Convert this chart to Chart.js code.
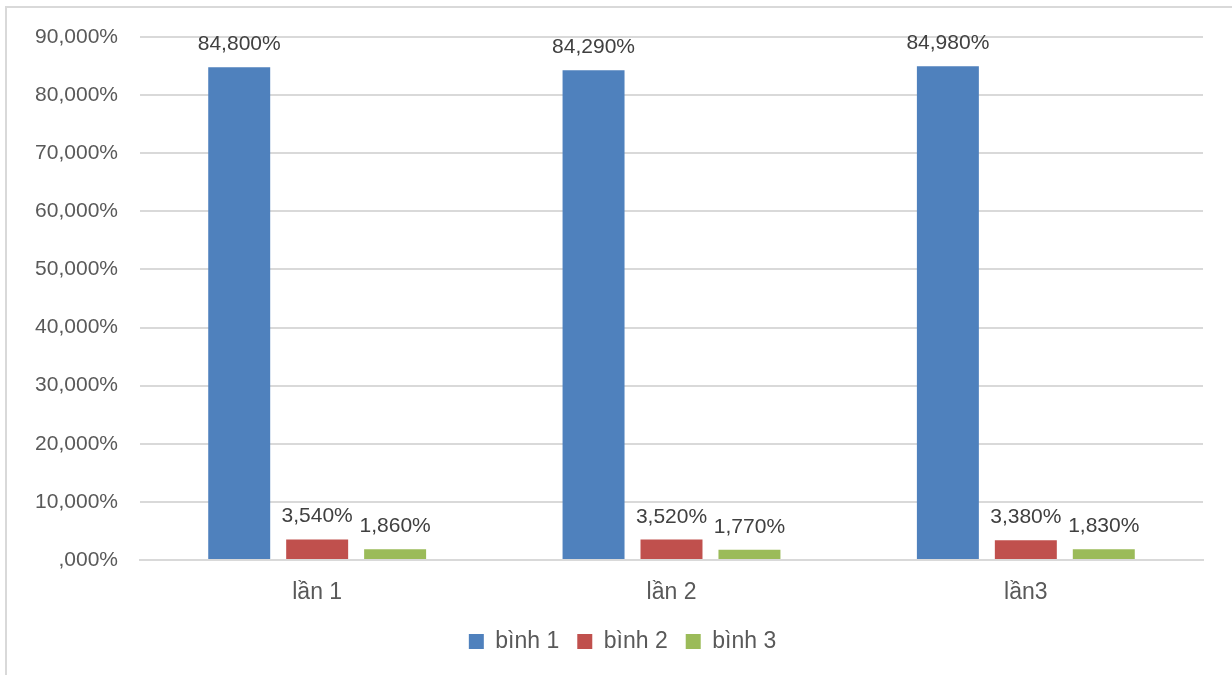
<!DOCTYPE html>
<html>
<head>
<meta charset="utf-8">
<script src="https://cdn.jsdelivr.net/npm/chart.js@4"></script>
<style>
  html, body { margin: 0; padding: 0; background: #fff; overflow: hidden; }
  #wrap { position: relative; width: 1232px; height: 675px; }
  #frame { position: absolute; left: 5px; top: 6px; width: 1300px; height: 700px;
           border-left: 2px solid #d9d9d9; border-top: 2px solid #d9d9d9; }
  canvas { position: absolute; left: 0; top: 0; }
</style>
</head>
<body>
<div id="wrap">
  <div id="frame"></div>
  <canvas id="chart" width="1232" height="675"></canvas>
</div>
<script>
let categories = ['lần 1', 'lần 2', 'lần3'];
let binh1 = [84.80, 84.29, 84.98];
let binh2 = [3.54, 3.52, 3.38];
let binh3 = [1.86, 1.77, 1.83];

function fmtTick(v) {
    return v === 0 ? ',000%' : v + ',000%';
}

function fmtValue(v) {
    return v.toFixed(3).replace('.', ',') + '%';
}

// value text above each bar
let dataLabels = {
    id: 'dataLabels',
    afterDatasetsDraw(chart) {
        let ctx = chart.ctx;
        ctx.save();
        ctx.font = '21px "Liberation Sans", Arial, sans-serif';
        ctx.fillStyle = '#404040';
        ctx.textAlign = 'center';
        ctx.textBaseline = 'alphabetic';
        chart.data.datasets.forEach((ds, i) => {
            chart.getDatasetMeta(i).data.forEach((bar, j) => {
                ctx.fillText(fmtValue(ds.data[j]), bar.x, bar.y - 17);
            });
        });
        ctx.restore();
    }
};

// legend is centred on the whole page, not only left of the right padding
let legendShift = {
    id: 'legendShift',
    afterLayout(chart) {
        chart.legend.left += 21;
        chart.legend.right += 21;
    }
};

let ctx = document.getElementById('chart').getContext('2d');
new Chart(ctx, {
    type: 'bar',
    data: {
        labels: categories,
        datasets: [
            { label: 'bình 1', data: binh1, backgroundColor: '#4F81BD' },
            { label: 'bình 2', data: binh2, backgroundColor: '#C0504D' },
            { label: 'bình 3', data: binh3, backgroundColor: '#9BBB59' }
        ]
    },
    plugins: [dataLabels, legendShift],
    options: {
        responsive: false,
        animation: false,
        categoryPercentage: 0.66,
        barPercentage: 0.795,
        layout: { padding: { top: 37, right: 29, bottom: 12, left: 0 } },
        scales: {
            x: {
                grid: { display: false, drawTicks: false },
                border: { display: true, color: '#d9d9d9', width: 2 },
                ticks: {
                    color: '#595959',
                    padding: 19,
                    font: { family: '"Liberation Sans", Arial, sans-serif', size: 23 }
                },
                afterFit(scale) { scale.height = 52; }
            },
            y: {
                min: 0,
                max: 90,
                grid: { color: '#d9d9d9', lineWidth: 2, drawTicks: false },
                border: { display: false },
                ticks: {
                    stepSize: 10,
                    color: '#595959',
                    padding: 22,
                    font: { family: '"Liberation Sans", Arial, sans-serif', size: 21 },
                    callback: v => fmtTick(v)
                },
                afterFit(scale) { scale.width = 140; }
            }
        },
        plugins: {
            tooltip: { enabled: false },
            legend: {
                position: 'bottom',
                labels: {
                    color: '#595959',
                    boxWidth: 15,
                    boxHeight: 15,
                    padding: 18,
                    font: { family: '"Liberation Sans", Arial, sans-serif', size: 23 }
                }
            }
        }
    }
});
</script>
</body>
</html>
